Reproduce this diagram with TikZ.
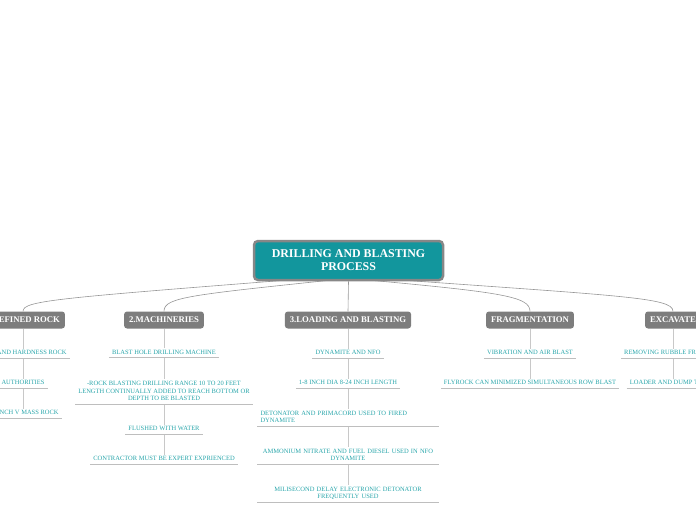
\documentclass[tikz,border=0pt]{standalone}
\usepackage{fontspec}
\setmainfont{Liberation Serif}
\definecolor{rootteal}{RGB}{18,150,157}
\definecolor{rootborder}{RGB}{135,135,135}
\definecolor{branchgray}{RGB}{125,125,125}
\definecolor{leafteal}{RGB}{40,165,170}
\definecolor{linegray}{RGB}{150,150,150}
\definecolor{vgray}{RGB}{200,200,200}
\definecolor{ulgray}{RGB}{190,190,190}
\pgfdeclarelayer{background}
\pgfsetlayers{background,main}
\newcommand{\lastdep}{\rule[-1.5pt]{0pt}{0pt}}
\begin{document}
\begin{tikzpicture}[x=1pt,y=-1pt,
  conn/.style={draw=linegray, line width=0.6pt},
  vconn/.style={draw=vgray, line width=0.9pt},
  uline/.style={draw=ulgray, line width=0.8pt},
  rootbox/.style={fill=rootteal, draw=rootborder, line width=2.5pt, rounded corners=4pt,
    text=white, font=\fontsize{11.9}{13}\selectfont\bfseries, align=center,
    minimum width=189pt, minimum height=39pt, inner sep=0pt},
  branchbox/.style={fill=branchgray, rounded corners=3pt, text=white,
    font=\fontsize{8.7}{10}\selectfont\bfseries, minimum height=17pt,
    inner xsep=5pt, inner ysep=0pt},
  leaf/.style={text=leafteal, font=\fontsize{6.5}{7.8}\selectfont, inner xsep=3pt,
    inner ysep=1.5pt, text depth=1.5pt, anchor=south, align=center},
  wideleaf/.style={leaf, text depth=, text width=175pt}
  ]
\useasboundingbox (0,0) rectangle (696,520);

% root
\node[rootbox] (root) at (348.5,260.5) {DRILLING AND BLASTING\\PROCESS};

% branches
\node[branchbox] (b1) at (23,320) {1.DEFINED ROCK};
\node[branchbox] (b2) at (164,320) {2.MACHINERIES};
\node[branchbox] (b3) at (348,320) {3.LOADING AND BLASTING};
\node[branchbox] (b4) at (530,320) {FRAGMENTATION};
\node[branchbox] (b5) at (673,320) {EXCAVATE};

% leaves: defined rock
\node[leaf] (d1) at (23,358) {SOFT AND HARDNESS ROCK};
\node[leaf] (d2) at (23,388) {AUTHORITIES};
\node[leaf] (d3) at (23,418) {TRENCH V MASS ROCK};

% leaves: machineries
\node[leaf] (m1) at (164,357.5) {BLAST HOLE DRILLING MACHINE};
\node[leaf] (m2) at (164,404) {-ROCK BLASTING DRILLING RANGE 10 TO 20 FEET\\LENGTH CONTINUALLY ADDED TO REACH BOTTOM OR\\DEPTH TO BE BLASTED};
\node[leaf] (m3) at (164,434) {FLUSHED WITH WATER};
\node[leaf] (m4) at (164,464) {CONTRACTOR MUST BE EXPERT EXPRIENCED};

% leaves: loading
\node[leaf] (l1) at (348,358) {DYNAMITE AND NFO};
\node[leaf] (l2) at (348,388) {1-8 INCH DIA 8-24 INCH LENGTH};
\node[wideleaf, align=left] (l3) at (348,426) {DETONATOR AND PRIMACORD USED TO FIRED\\DYNAMITE\lastdep};
\node[wideleaf] (l4) at (348,464) {AMMONIUM NITRATE AND FUEL DIESEL USED IN NFO\\DYNAMITE\lastdep};
\node[wideleaf] (l5) at (348,502) {MILISECOND DELAY ELECTRONIC DETONATOR\\FREQUENTLY USED\lastdep};

% leaves: fragmentation
\node[leaf] (f1) at (530,358) {VIBRATION AND AIR BLAST};
\node[leaf] (f2) at (530,388) {FLYROCK CAN MINIMIZED SIMULTANEOUS ROW BLAST};

% leaves: excavate
\node[leaf] (e1) at (673,358) {REMOVING RUBBLE FROM SITE};
\node[leaf] (e2) at (673,388) {LOADER AND DUMP TRUCK};

\begin{pgfonlayer}{background}
  \draw[conn] ([yshift=6pt]root.south) .. controls (60,298) and (23,300) .. (b1.north);
  \draw[conn] ([yshift=3pt]root.south) .. controls (190,295) and (164,297) .. (b2.north);
  \draw[conn] (root.south) -- (b3.north);
  \draw[conn] ([yshift=3pt]root.south) .. controls (500,292) and (530,296) .. (b4.north);
  \draw[conn] ([yshift=5pt]root.south) .. controls (620,296) and (673,297) .. (b5.north);

  \draw[vconn] (b1.south) -- (d1.north);
  \draw[vconn] (d1.south) -- (d2.north);
  \draw[vconn] (d2.south) -- (d3.north);
  \draw[vconn] (b2.south) -- (m1.north);
  \draw[vconn] (m1.south) -- (m2.north);
  \draw[vconn] (m2.south) -- (m3.north);
  \draw[vconn] (m3.south) -- (m4.north);
  \draw[vconn] (b3.south) -- (l1.north);
  \draw[vconn] (l1.south) -- (l2.north);
  \draw[vconn] (l2.south) -- (l3.north);
  \draw[vconn] (l3.south) -- (l4.north);
  \draw[vconn] (l4.south) -- (l5.north);
  \draw[vconn] (b4.south) -- (f1.north);
  \draw[vconn] (f1.south) -- (f2.north);
  \draw[vconn] (b5.south) -- (e1.north);
  \draw[vconn] (e1.south) -- (e2.north);
\end{pgfonlayer}

\foreach \n in {d1,d2,d3,m1,m2,m3,m4,l1,l2,l3,l4,l5,f1,f2,e1,e2}
  \draw[uline] (\n.south west) -- (\n.south east);
\end{tikzpicture}
\end{document}
